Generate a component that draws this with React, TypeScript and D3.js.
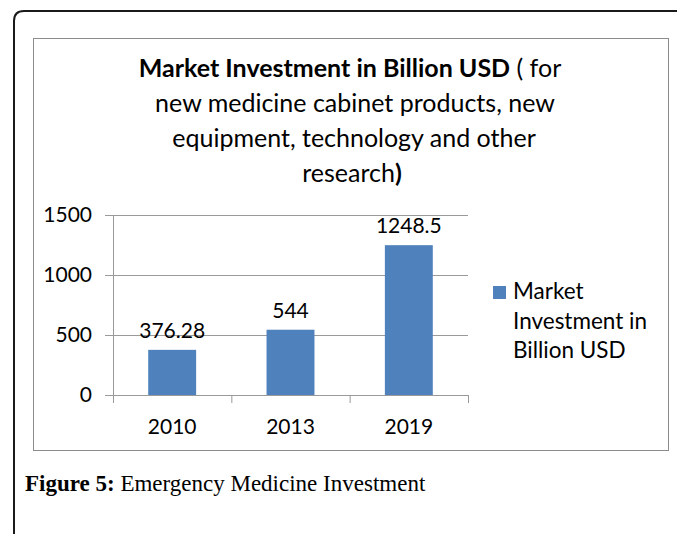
import React from "react";
import * as d3 from "d3";

const categories = ["2010", "2013", "2019"];
const values = [376.28, 544, 1248.5];
const valueLabels = ["376.28", "544", "1248.5"];
const yTicks = [0, 500, 1000, 1500];
const seriesName = ["Market", "Investment in", "Billion USD"];

const FONT = "Lato, 'Open Sans', sans-serif";
const BAR = "#4F81BD";

export default function App() {
  const x = d3
    .scaleBand<string>()
    .domain(categories)
    .range([113, 468])
    .paddingInner(0.595)
    .paddingOuter(0.2975);
  const y = d3.scaleLinear().domain([0, 1500]).range([395, 215]);
  const step = x.step();
  const boundaries = d3.range(categories.length + 1).map((i) => 113 + i * step);

  return (
    <svg
      width={677}
      height={534}
      style={{ position: "absolute", left: 0, top: 0, background: "#fff" }}
      fontFamily={FONT}
    >
      <rect width={677} height={534} fill="#fff" />
      {/* outer frame */}
      <path
        d="M14,534 L14,21 Q14,11 24,11 L677,11"
        fill="none"
        stroke="#1a1a1a"
        strokeWidth={2}
      />
      {/* inner chart box */}
      <rect x={33.5} y={38.5} width={635} height={412} fill="#fff" stroke="#8c8c8c" strokeWidth={1} />

      {/* title */}
      <g textAnchor="middle" fontSize={25} fill="#000">
        <text x={350} y={77}>
          <tspan fontWeight="bold">Market Investment in Billion USD</tspan>
          <tspan> ( for</tspan>
        </text>
        <text x={355} y={112}>new medicine cabinet products, new</text>
        <text x={354} y={147}>equipment, technology and other</text>
        <text x={352} y={182}>
          <tspan>research</tspan>
          <tspan fontWeight="bold">)</tspan>
        </text>
      </g>

      {/* gridlines */}
      {yTicks.map((t) => (
        <line key={t} x1={105} x2={468} y1={y(t) + 0.5} y2={y(t) + 0.5} stroke="#9a9a9a" strokeWidth={1} />
      ))}
      {/* y axis line */}
      <line x1={113.5} x2={113.5} y1={215} y2={395} stroke="#9a9a9a" strokeWidth={1} />
      {/* x ticks */}
      {boundaries.map((b, i) => (
        <line key={i} x1={b + 0.5} x2={b + 0.5} y1={395} y2={403} stroke="#9a9a9a" strokeWidth={1} />
      ))}
      {/* y tick labels */}
      <g textAnchor="end" fontSize={21} fill="#000">
        {yTicks.map((t) => (
          <text key={t} x={92} y={y(t) + 7}>
            {t}
          </text>
        ))}
      </g>
      {/* bars */}
      {categories.map((c, i) => (
        <rect
          key={c}
          x={x(c)}
          y={y(values[i])}
          width={x.bandwidth()}
          height={y(0) - y(values[i])}
          fill={BAR}
        />
      ))}
      {/* data labels */}
      <g textAnchor="middle" fontSize={21} fill="#000">
        {categories.map((c, i) => (
          <text key={c} x={(x(c) as number) + x.bandwidth() / 2} y={y(values[i]) - 12}>
            {valueLabels[i]}
          </text>
        ))}
      </g>
      {/* x labels */}
      <g textAnchor="middle" fontSize={21} fill="#000">
        {categories.map((c) => (
          <text key={c} x={(x(c) as number) + x.bandwidth() / 2} y={434}>
            {c}
          </text>
        ))}
      </g>
      {/* legend */}
      <rect x={493} y={286} width={13} height={13} fill={BAR} />
      <g fontSize={22.5} fill="#000">
        {seriesName.map((s, i) => (
          <text key={s} x={513} y={299 + i * 29.5}>
            {s}
          </text>
        ))}
      </g>

      {/* caption */}
      <text x={25} y={491} fontFamily="'Liberation Serif', 'DejaVu Serif', serif" fontSize={23} fill="#000">
        <tspan fontWeight="bold">Figure 5:</tspan>
        <tspan> Emergency Medicine Investment</tspan>
      </text>
    </svg>
  );
}
